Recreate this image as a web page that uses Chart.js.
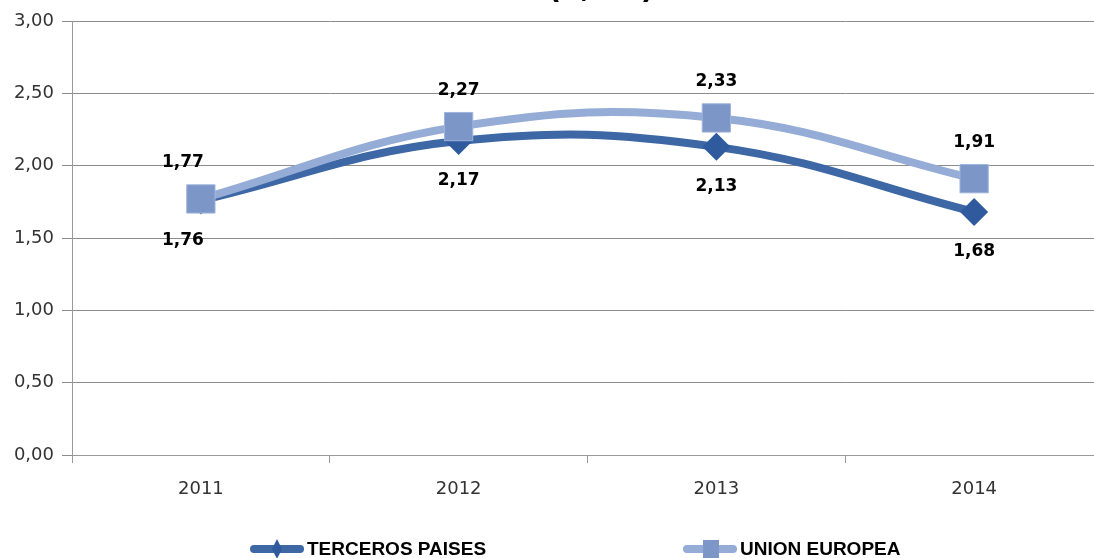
<!DOCTYPE html>
<html>
<head>
<meta charset="utf-8">
<script src="https://cdn.jsdelivr.net/npm/chart.js@4/dist/chart.umd.min.js"></script>
<style>
  html, body { margin: 0; padding: 0; background: #fff; overflow: hidden; }
  #wrap { width: 1124px; height: 558px; position: relative; }
  #myChart { position: absolute; left: 0; top: 0; }
  .leyenda { position: absolute; top: 538px; display: flex; align-items: center;
             font: bold 19px 'Liberation Sans', Arial, sans-serif; color: #000; white-space: nowrap; }
  .leyenda canvas { margin-right: 2px; }
</style>
</head>
<body>
<div id="wrap">
  <canvas id="myChart" width="1124" height="558"></canvas>
  <div class="leyenda" id="ley0" style="left:249px"></div>
  <div class="leyenda" id="ley1" style="left:682px"></div>
</div>
<script>
// datos del grafico
const anos = ['2011', '2012', '2013', '2014'];
const tercerosPaises = [1.76, 2.17, 2.13, 1.68];
const unionEuropea = [1.77, 2.27, 2.33, 1.91];
const ticksY = [0, 0.5, 1, 1.5, 2, 2.5, 3];
const nombres = ['TERCEROS PAISES', 'UNION EUROPEA'];

const colorTerceros = 'rgb(61, 103, 165)';
const colorUE = 'rgb(149, 172, 214)';
const marcaTerceros = 'rgb(47, 91, 158)';
const marcaUE = 'rgb(124, 150, 200)';

function formato(v) {
    return v.toFixed(2).replace('.', ',');
}

// icono de la leyenda: linea gruesa con marcador
function iconoLeyenda(tipo) {
    const c = document.createElement('canvas');
    c.width = 56; c.height = 20;
    const g = c.getContext('2d');
    g.lineCap = 'round';
    g.lineWidth = 8;
    g.strokeStyle = tipo == 'rect' ? colorUE : colorTerceros;
    g.beginPath(); g.moveTo(5, 10); g.lineTo(51, 10); g.stroke();
    if (tipo == 'rect') {
        g.fillStyle = marcaUE;
        g.fillRect(21, 1, 16, 18);
    } else {
        g.fillStyle = marcaTerceros;
        g.beginPath(); g.moveTo(28, 0); g.lineTo(33, 10); g.lineTo(28, 20); g.lineTo(23, 10); g.closePath(); g.fill();
    }
    return c;
}

['rectRot', 'rect'].forEach((tipo, i) => {
    const item = document.querySelector('#ley' + i);
    item.appendChild(iconoLeyenda(tipo));
    const txt = document.createElement('span');
    txt.textContent = nombres[i];
    item.appendChild(txt);
});

// etiquetas de datos y titulo recortado
const etiquetas = {
    id: 'etiquetas',
    afterDatasetsDraw(chart) {
        const ctx = chart.ctx;
        ctx.save();
        ctx.font = "bold 17px 'DejaVu Sans', sans-serif";
        ctx.fillStyle = '#000';
        ctx.textAlign = 'center';
        ctx.textBaseline = 'middle';
        chart.data.datasets.forEach((ds, i) => {
            const meta = chart.getDatasetMeta(i);
            meta.data.forEach((p, j) => {
                const dy = i == 0 ? 40 : -36;
                const dx = j == 0 ? -18 : 0;
                ctx.fillText(formato(ds.data[j]), p.x + dx, p.y + dy);
            });
        });
        ctx.font = "bold 30px 'DejaVu Sans', sans-serif";
        ctx.textBaseline = 'alphabetic';
        ctx.fillText('(€/KG)', 601, -2);
        ctx.restore();
    }
};

const ctx = document.querySelector('#myChart').getContext('2d');
const data = {
    labels: anos,
    datasets: [{
        label: nombres[0],
        data: tercerosPaises,
        borderColor: colorTerceros,
        backgroundColor: marcaTerceros,
        borderWidth: 8,
        pointStyle: 'rectRot',
        pointRadius: 14,
        pointBorderWidth: 0,
        pointBorderColor: marcaTerceros,
        tension: 0.4,
        fill: false,
        order: 2
    }, {
        label: nombres[1],
        data: unionEuropea,
        borderColor: colorUE,
        backgroundColor: marcaUE,
        borderWidth: 8,
        pointStyle: 'rect',
        pointRadius: 20,
        pointBorderWidth: 1,
        pointBorderColor: 'rgb(160, 181, 220)',
        tension: 0.4,
        fill: false,
        order: 1
    }]
};

new Chart(ctx, {
    type: 'line',
    data: data,
    plugins: [etiquetas],
    options: {
        responsive: false,
        animation: false,
        layout: { padding: { top: 21, right: 0, bottom: 0, left: 0 } },
        plugins: {
            title: { display: false },
            tooltip: { enabled: false },
            legend: { display: false }
        },
        scales: {
            x: {
                offset: true,
                grid: {
                    offset: true,
                    drawOnChartArea: false,
                    drawTicks: true,
                    tickLength: 8,
                    color: '#999'
                },
                border: { color: '#999', width: 1 },
                ticks: {
                    color: '#333',
                    padding: 16,
                    font: { family: "'DejaVu Sans', sans-serif", size: 18 }
                },
                afterFit(scale) { scale.height = 103; }
            },
            y: {
                min: 0,
                max: 3,
                afterBuildTicks(scale) { scale.ticks = ticksY.map(v => ({ value: v })); },
                grid: { color: '#8c8c8c', tickLength: 10, lineWidth: 1 },
                border: { color: '#999', width: 1 },
                ticks: {
                    color: '#333',
                    padding: 8,
                    font: { family: "'DejaVu Sans', sans-serif", size: 18 },
                    callback: v => formato(v)
                },
                afterFit(scale) { scale.width = 72; }
            }
        }
    }
});
</script>
</body>
</html>
